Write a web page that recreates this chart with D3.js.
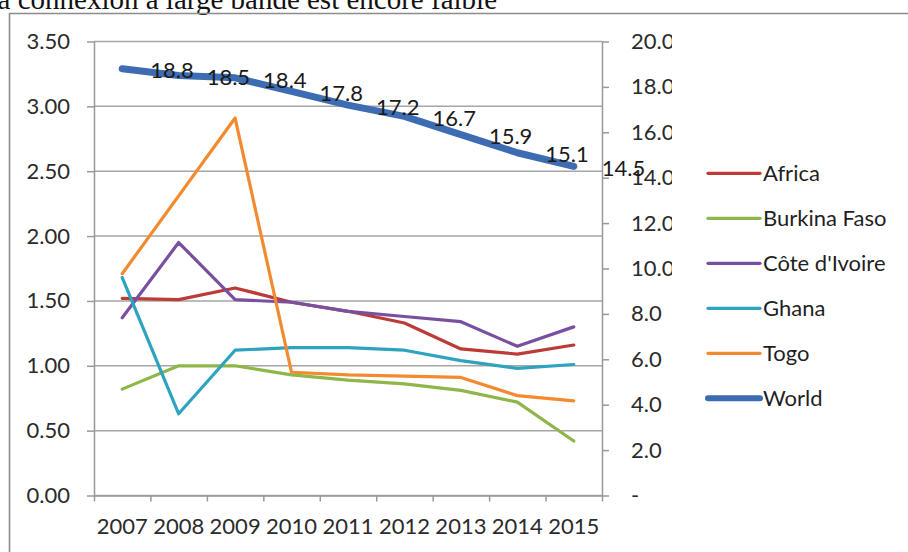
<!DOCTYPE html>
<html>
<head>
<meta charset="utf-8">
<script src="https://cdn.jsdelivr.net/npm/d3@7/dist/d3.min.js"></script>
<style>
  html, body { margin: 0; padding: 0; background: #fff; }
  svg { display: block; }
  text { font-family: Lato, "Open Sans", sans-serif; }
</style>
</head>
<body>
<script>
// Broadband indicators, 2007–2015 (left axis: countries/Africa, right axis: World)
const years = ["2007", "2008", "2009", "2010", "2011", "2012", "2013", "2014", "2015"];
const africa      = [1.52, 1.51, 1.60, 1.49, 1.42, 1.33, 1.13, 1.09, 1.16];
const burkinaFaso = [0.82, 1.00, 1.00, 0.93, 0.89, 0.86, 0.81, 0.72, 0.42];
const coteIvoire  = [1.37, 1.95, 1.51, 1.49, 1.42, 1.38, 1.34, 1.15, 1.30];
const ghana       = [1.68, 0.63, 1.12, 1.14, 1.14, 1.12, 1.04, 0.98, 1.01];
const togo        = [1.71, 2.31, 2.91, 0.95, 0.93, 0.92, 0.91, 0.77, 0.73];
const world       = [18.8, 18.5, 18.4, 17.8, 17.2, 16.7, 15.9, 15.1, 14.5];
const leftTicks  = [0, 0.5, 1, 1.5, 2, 2.5, 3, 3.5];
const rightTicks = [0, 2, 4, 6, 8, 10, 12, 14, 16, 18, 20];
const titleText = "La connexion à large bande est encore faible";

const series = [
  { name: "Africa",        values: africa,      color: "#bd3b37", width: 3.2, axis: "left" },
  { name: "Burkina Faso",  values: burkinaFaso, color: "#8fb649", width: 3.2, axis: "left" },
  { name: "Côte d'Ivoire", values: coteIvoire,  color: "#7950a0", width: 3.2, axis: "left" },
  { name: "Ghana",         values: ghana,       color: "#2ea3bf", width: 3.2, axis: "left" },
  { name: "Togo",          values: togo,        color: "#f28a30", width: 3.2, axis: "left" },
  { name: "World",         values: world,       color: "#3d6cb3", width: 7,   axis: "right" }
];

const W = 908, H = 552;
const plot = { left: 94, right: 602, top: 41.5, bottom: 495.5 };

const svg = d3.select("body").append("svg").attr("width", W).attr("height", H);

// heading text cut off by the top of the page
svg.append("text")
  .attr("x", 497).attr("y", 9)
  .attr("text-anchor", "end")
  .style("font-family", "'Liberation Serif', 'Times New Roman', serif")
  .style("font-size", "29px")
  .attr("fill", "#111")
  .text(titleText);

// chart frame (left and top edges)
svg.append("path")
  .attr("d", `M9.5,${H} V13.5 H${W}`)
  .attr("fill", "none").attr("stroke", "#8c8c8c").attr("stroke-width", 1.6);

const x = d3.scaleBand().domain(years).range([plot.left, plot.right]).padding(0);
const xEdge = d3.scaleLinear().domain([0, years.length]).range([plot.left, plot.right]);
const yL = d3.scaleLinear().domain([0, 3.5]).range([plot.bottom, plot.top]);
const yR = d3.scaleLinear().domain([0, 20]).range([plot.bottom, plot.top]);
const cx = d => x(d) + x.bandwidth() / 2;

// horizontal gridlines
svg.append("g").selectAll("line").data(leftTicks).join("line")
  .attr("x1", plot.left).attr("x2", plot.right)
  .attr("y1", d => yL(d)).attr("y2", d => yL(d))
  .attr("stroke", "#a6a6a6").attr("stroke-width", 1.5);

const labelStyle = g => {
  g.selectAll("text").style("font-size", "22px").attr("fill", "#2b2b2b");
  g.selectAll("line, path").attr("stroke", "#999").attr("stroke-width", 1.5);
};

// left axis
svg.append("g")
  .attr("transform", `translate(${plot.left},0)`)
  .call(d3.axisLeft(yL).tickValues(leftTicks).tickSize(7).tickPadding(17)
        .tickFormat(d3.format(".2f")).tickSizeOuter(0))
  .call(labelStyle);

// right axis (clipped on the right side)
svg.append("clipPath").attr("id", "rclip")
  .append("rect").attr("x", 0).attr("y", 0).attr("width", 672).attr("height", H);
svg.append("g")
  .attr("clip-path", "url(#rclip)")
  .append("g")
  .attr("transform", `translate(${plot.right},0)`)
  .call(d3.axisRight(yR).tickValues(rightTicks).tickSize(7).tickPadding(22)
        .tickFormat(d => d === 0 ? "-" : d.toFixed(1)).tickSizeOuter(0))
  .call(labelStyle);

// bottom axis: tick marks on category edges, labels at category centres
svg.append("g")
  .attr("transform", `translate(0,${plot.bottom})`)
  .call(d3.axisBottom(xEdge).ticks(years.length).tickSize(6).tickFormat("").tickSizeOuter(0))
  .call(labelStyle);
svg.append("g")
  .attr("transform", `translate(0,${plot.bottom})`)
  .call(d3.axisBottom(x).tickSize(0).tickPadding(23))
  .call(g => g.select(".domain").remove())
  .call(labelStyle);

// series lines
const lineFor = s => d3.line()
  .x((d, i) => cx(years[i]))
  .y(d => (s.axis === "left" ? yL : yR)(d));

svg.append("g").selectAll("path").data(series).join("path")
  .attr("d", s => lineFor(s)(s.values))
  .attr("fill", "none")
  .attr("stroke", s => s.color)
  .attr("stroke-width", s => s.width)
  .attr("stroke-linejoin", "round")
  .attr("stroke-linecap", "round");

// value labels on the World series
svg.append("g").selectAll("text").data(world).join("text")
  .attr("x", (d, i) => cx(years[i]) + 28)
  .attr("y", d => yR(d) + 2)
  .attr("dy", "0.35em")
  .style("font-size", "22px")
  .attr("fill", "#1a1a1a")
  .text(d => d.toFixed(1));

// legend
const legend = svg.append("g").selectAll("g").data(series).join("g")
  .attr("transform", (d, i) => `translate(708,${173.3 + i * 45})`);
legend.append("line")
  .attr("x1", 0).attr("x2", 52)
  .attr("stroke", d => d.color)
  .attr("stroke-width", d => d.width === 7 ? 6 : 3.2)
  .attr("stroke-linecap", "round");
legend.append("text")
  .attr("x", 55).attr("dy", "0.35em")
  .style("font-size", "22px")
  .attr("fill", "#1f1f1f")
  .text(d => d.name);
</script>
</body>
</html>
